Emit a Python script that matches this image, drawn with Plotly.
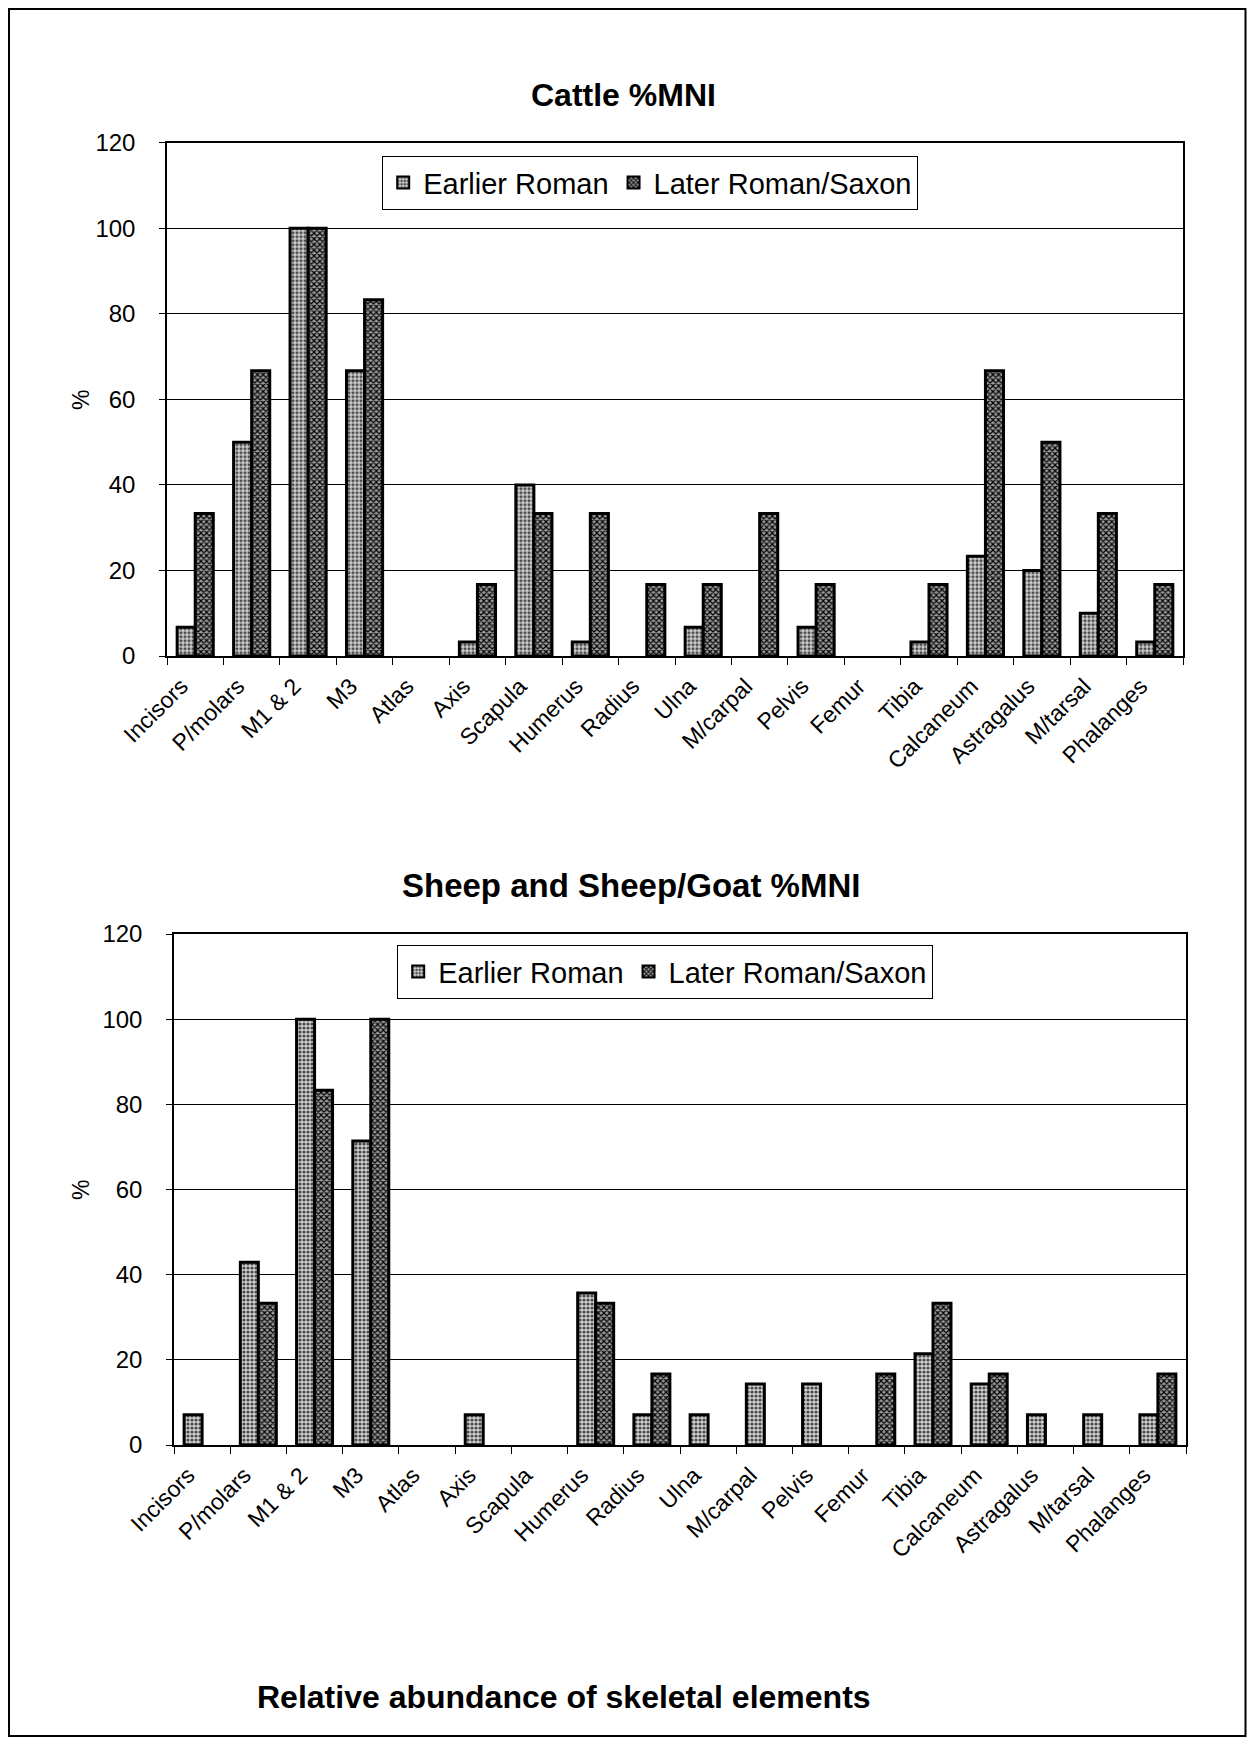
import plotly.graph_objects as go

categories = ["Incisors", "P/molars", "M1 & 2", "M3", "Atlas", "Axis", "Scapula",
              "Humerus", "Radius", "Ulna", "M/carpal", "Pelvis", "Femur", "Tibia",
              "Calcaneum", "Astragalus", "M/tarsal", "Phalanges"]

cattle_earlier = [6.7, 50, 100, 66.7, 0, 3.3, 40, 3.3, 0, 6.7, 0, 6.7, 0, 3.3, 23.3, 20, 10, 3.3]
cattle_later = [33.3, 66.7, 100, 83.3, 0, 16.7, 33.3, 33.3, 16.7, 16.7, 33.3, 16.7, 0, 16.7, 66.7, 50, 33.3, 16.7]

sheep_earlier = [7.1, 42.9, 100, 71.4, 0, 7.1, 0, 35.7, 7.1, 7.1, 14.3, 14.3, 0, 21.4, 14.3, 7.1, 7.1, 7.1]
sheep_later = [0, 33.3, 83.3, 100, 0, 0, 0, 33.3, 16.7, 0, 0, 0, 16.7, 33.3, 16.7, 0, 0, 16.7]

y_ticks = [0, 20, 40, 60, 80, 100, 120]

OFF = 8  # page body margin
W, H = 1255 - 2 * OFF, 1745 - 2 * OFF
FONT = "Liberation Sans, Arial, sans-serif"


def px(x):
    return (x - OFF) / W


def py(y):
    return 1 - (y - OFF) / H


def nz(vals):
    # zero-height bars are not drawn in the original
    return [v if v else None for v in vals]


er_style = dict(color="#c4c4c4", line=dict(color="black", width=3),
                pattern=dict(shape=".", fgcolor="#4a4a4a", bgcolor="#d2d2d2", size=4, solidity=0.5))
lr_style = dict(color="#707070", line=dict(color="black", width=3),
                pattern=dict(shape="x", fgcolor="#000000", bgcolor="#9a9a9a", size=4, solidity=0.5))

fig = go.Figure()
fig.add_trace(go.Bar(x=categories, y=nz(cattle_earlier), name="Earlier Roman", marker=er_style,
                     xaxis="x", yaxis="y", legend="legend"))
fig.add_trace(go.Bar(x=categories, y=nz(cattle_later), name="Later Roman/Saxon", marker=lr_style,
                     xaxis="x", yaxis="y", legend="legend"))
fig.add_trace(go.Bar(x=categories, y=nz(sheep_earlier), name="Earlier Roman", marker=er_style,
                     xaxis="x2", yaxis="y2", legend="legend2"))
fig.add_trace(go.Bar(x=categories, y=nz(sheep_later), name="Later Roman/Saxon", marker=lr_style,
                     xaxis="x2", yaxis="y2", legend="legend2"))

xcommon = dict(type="category", showline=True, linecolor="black", linewidth=1.5, mirror=True,
               ticks="outside", tickson="boundaries", ticklen=7, tickcolor="black",
               tickangle=-45, tickfont=dict(family=FONT, size=23, color="black"),
               ticklabelstandoff=6, ticklabelshift=-14, showgrid=False, fixedrange=True,
               automargin=False)
ycommon = dict(range=[0, 120], tickvals=y_ticks, showline=True, linecolor="black", linewidth=1.5,
               mirror=True, ticks="outside", ticklen=6, tickcolor="black",
               showgrid=True, gridcolor="black", gridwidth=1.2, zeroline=False,
               tickfont=dict(family=FONT, size=24, color="black"), ticklabelstandoff=19,
               fixedrange=True, automargin=False)

legcommon = dict(orientation="h", bgcolor="white", bordercolor="black", borderwidth=1.2,
                 font=dict(family=FONT, size=29, color="black"), xanchor="left", yanchor="top",
                 itemsizing="constant", tracegroupgap=0, itemwidth=30)

fig.update_layout(
    template="none", autosize=False,
    width=W, height=H, margin=dict(l=0, r=0, t=0, b=0, autoexpand=False),
    paper_bgcolor="white", plot_bgcolor="white",
    barmode="group", bargap=0.36, bargroupgap=0, showlegend=True,
    xaxis=dict(domain=[px(167), px(1183)], anchor="y", **xcommon),
    yaxis=dict(domain=[py(656), py(142.7)], anchor="x", **ycommon),
    xaxis2=dict(domain=[px(174), px(1186)], anchor="y2", **xcommon),
    yaxis2=dict(domain=[py(1445), py(934)], anchor="x2", **ycommon),
    legend=dict(x=px(382), y=py(156), **legcommon),
    legend2=dict(x=px(397), y=py(945), **legcommon),
)

ann_font_title = dict(family=FONT, size=32, color="black")
fig.add_annotation(text="<b>Cattle %MNI</b>", x=px(623), y=py(95), xref="paper", yref="paper",
                   showarrow=False, font=ann_font_title, xanchor="center", yanchor="middle")
fig.add_annotation(text="<b>Sheep and Sheep/Goat %MNI</b>", x=px(631), y=py(885), xref="paper",
                   yref="paper", showarrow=False, font=dict(family=FONT, size=33, color="black"),
                   xanchor="center", yanchor="middle")
fig.add_annotation(text="<b>Relative abundance of skeletal elements</b>", x=px(564), y=py(1697),
                   xref="paper", yref="paper", showarrow=False, font=ann_font_title,
                   xanchor="center", yanchor="middle")
for yy in (400, 1190):
    fig.add_annotation(text="%", x=px(81), y=py(yy), xref="paper", yref="paper", showarrow=False,
                       textangle=-90, font=dict(family=FONT, size=23, color="black"),
                       xanchor="center", yanchor="middle")

fig.add_shape(type="rect", xref="paper", yref="paper", x0=px(9), x1=px(1245.5), y0=py(1736), y1=py(9),
              line=dict(color="black", width=2), fillcolor="rgba(0,0,0,0)", layer="above")

fig.write_html("out.html", config={"displayModeBar": False})
